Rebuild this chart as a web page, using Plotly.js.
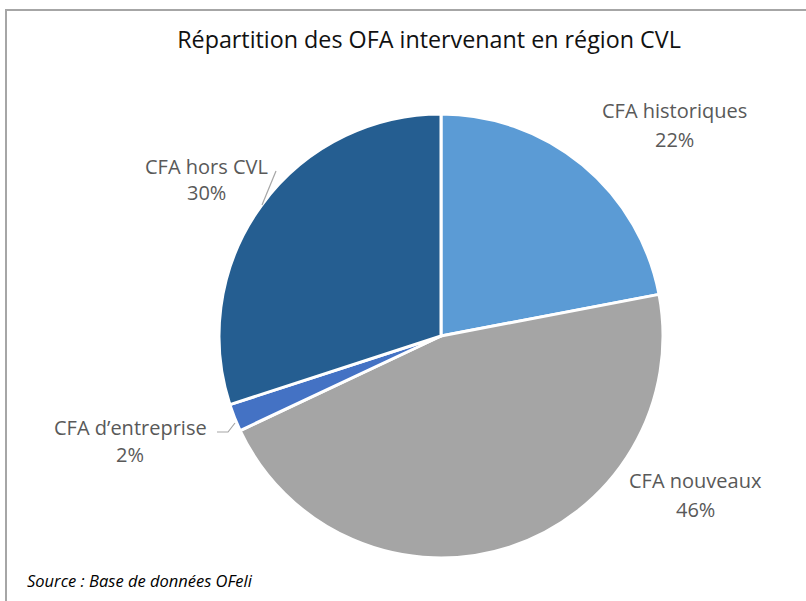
<!DOCTYPE html>
<html>
<head>
<meta charset="utf-8">
<script src="https://cdn.plot.ly/plotly-3.0.1.min.js"></script>
<style>
html,body{margin:0;padding:0;background:#fff;}
#chart{width:806px;height:601px;}
</style>
</head>
<body>
<div id="chart"></div>
<script>
// Data
const categories = ["CFA historiques", "CFA nouveaux", "CFA d\u2019entreprise", "CFA hors CVL"];
const shares = [22, 46, 2, 30];
const sliceColors = ["#5B9BD5", "#A5A5A5", "#4472C4", "#255E91"];
const chartTitle = "Répartition des OFA intervenant en région CVL";
const sourceNote = "Source : Base de données OFeli";

// Layout helpers (pixel -> paper)
const W = 806, H = 601;
const px = x => x / W;
const py = y => 1 - y / H;

// Label placement (pixel centres for name line and value line)
const labelPos = [
  {x: 674, y1: 110, y2: 139},
  {x: 695, y1: 480, y2: 509},
  {x: 130, y1: 427, y2: 454},
  {x: 207, y1: 167, y2: 193}
];

const FONT = "'Open Sans', 'Noto Sans', sans-serif";
const labelFont = {family: FONT, size: 20, color: "#595959"};

const annotations = [];
categories.forEach((c, i) => {
  annotations.push({xref: "paper", yref: "paper", x: px(labelPos[i].x), y: py(labelPos[i].y1),
    text: c, showarrow: false, xanchor: "center", yanchor: "middle", font: labelFont});
  annotations.push({xref: "paper", yref: "paper", x: px(labelPos[i].x), y: py(labelPos[i].y2),
    text: shares[i] + "%", showarrow: false, xanchor: "center", yanchor: "middle", font: labelFont});
});
annotations.push({xref: "paper", yref: "paper", x: px(25), y: py(580), xanchor: "left", yanchor: "middle",
  text: "<i>" + sourceNote + "</i>", showarrow: false,
  font: {family: FONT, size: 16.5, color: "#000"}});

const shapes = [
  // outer frame
  {type: "path", xref: "paper", yref: "paper",
   path: `M ${px(6)} ${py(603)} L ${px(6)} ${py(10)} L ${px(810)} ${py(10)}`,
   line: {color: "#A6A6A6", width: 2}},
  // leader lines
  {type: "path", xref: "paper", yref: "paper",
   path: `M ${px(276)} ${py(171)} L ${px(262)} ${py(205)}`,
   line: {color: "#A6A6A6", width: 1.2}},
  {type: "path", xref: "paper", yref: "paper",
   path: `M ${px(217)} ${py(432)} L ${px(228)} ${py(432)} L ${px(235)} ${py(423)}`,
   line: {color: "#A6A6A6", width: 1.2}}
];

const trace = {
  type: "pie",
  labels: categories,
  values: shares,
  sort: false,
  direction: "clockwise",
  rotation: 0,
  textinfo: "none",
  hoverinfo: "label+percent",
  marker: {colors: sliceColors, line: {color: "#FFFFFF", width: 3}},
  domain: {x: [px(219), px(663)], y: [py(558), py(114)]},
  showlegend: false
};

const layout = {
  width: W, height: H,
  margin: {l: 0, r: 0, t: 0, b: 0},
  paper_bgcolor: "#FFFFFF",
  title: {text: chartTitle, x: px(429), xanchor: "center", y: py(40), yanchor: "middle",
    font: {family: FONT, size: 23.3, color: "#111111"}},
  annotations: annotations,
  shapes: shapes,
  showlegend: false
};

Plotly.newPlot("chart", [trace], layout, {displayModeBar: false, staticPlot: true});
</script>
</body>
</html>
